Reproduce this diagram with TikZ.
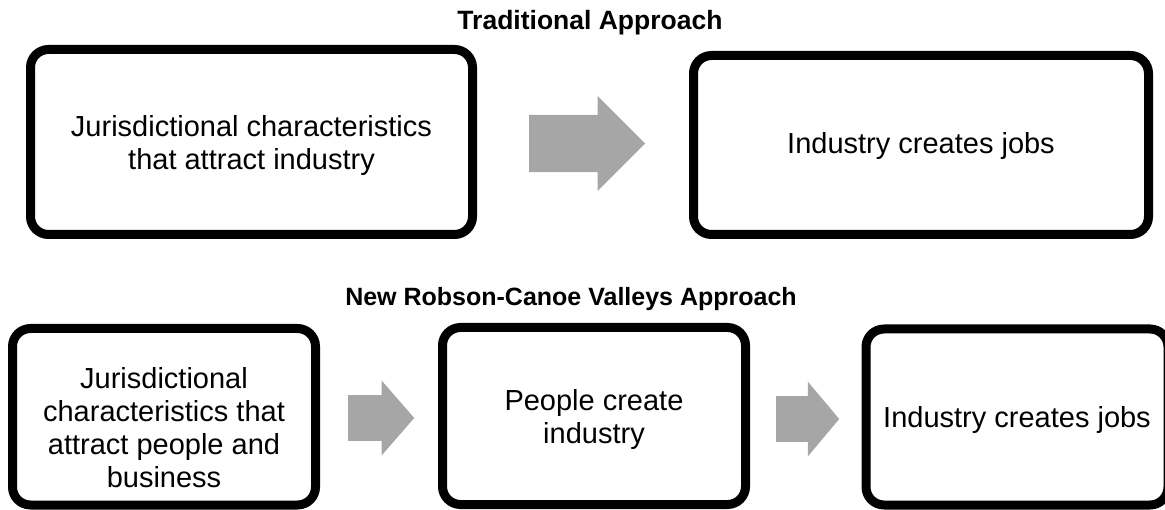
\documentclass[tikz,border=0pt]{standalone}
\usepackage{fontspec}
\setmainfont{Liberation Sans}
\usetikzlibrary{shapes.arrows, positioning, calc}

\begin{document}
\begin{tikzpicture}[
        x=1pt, y=-1pt,
        box/.style={draw, line width=9pt, rounded corners=18pt, inner sep=0pt, align=center,
            font=\fontsize{29}{33}\selectfont},
        blockarrow/.style={single arrow, anchor=tail, fill=black!35, inner xsep=0pt, inner ysep=22.75pt,
            single arrow head extend=14.5pt},
        heading/.style={font=\fontsize{25}{30}\selectfont\bfseries}
    ]
        \clip (0,0) rectangle (1165,510);

        % Traditional approach
        \node[heading, font=\fontsize{26.5}{30}\selectfont\bfseries] (trad) at (590,23) {Traditional Approach};
        \node[box, minimum width=442pt, minimum height=185pt, text depth=0pt] (t1) at (251.5,142)
            {Jurisdictional characteristics\\that attract industry};
        \node[box, minimum width=455pt, minimum height=179pt, text depth=4pt] (t2) at (921,145)
            {Industry creates jobs};
        \node[blockarrow, minimum height=116pt, inner ysep=28.5pt, single arrow head extend=19pt,
            single arrow tip angle=90] (ta) at (529,143.5) {};

        % New approach
        \node[heading] (new) at (571,299) {New Robson-Canoe Valleys Approach};
        \node[box, minimum width=303pt, minimum height=176.5pt, text height=142pt] (b1) at (164,416.75)
            {Jurisdictional\\characteristics that\\attract people and\\business};
        \node[box, minimum width=303pt, minimum height=177pt, text depth=0pt] (b2) at (594,416)
            {People create\\industry};
        \node[box, minimum width=302pt, minimum height=176pt, text depth=0pt] (b3) at (1017,417)
            {Industry creates jobs};
        \node[blockarrow, minimum height=66pt, single arrow tip angle=98] (ba1) at (348,418) {};
        \node[blockarrow, minimum height=63pt, single arrow tip angle=100] (ba2) at (776,419) {};
    \end{tikzpicture}
\end{document}
